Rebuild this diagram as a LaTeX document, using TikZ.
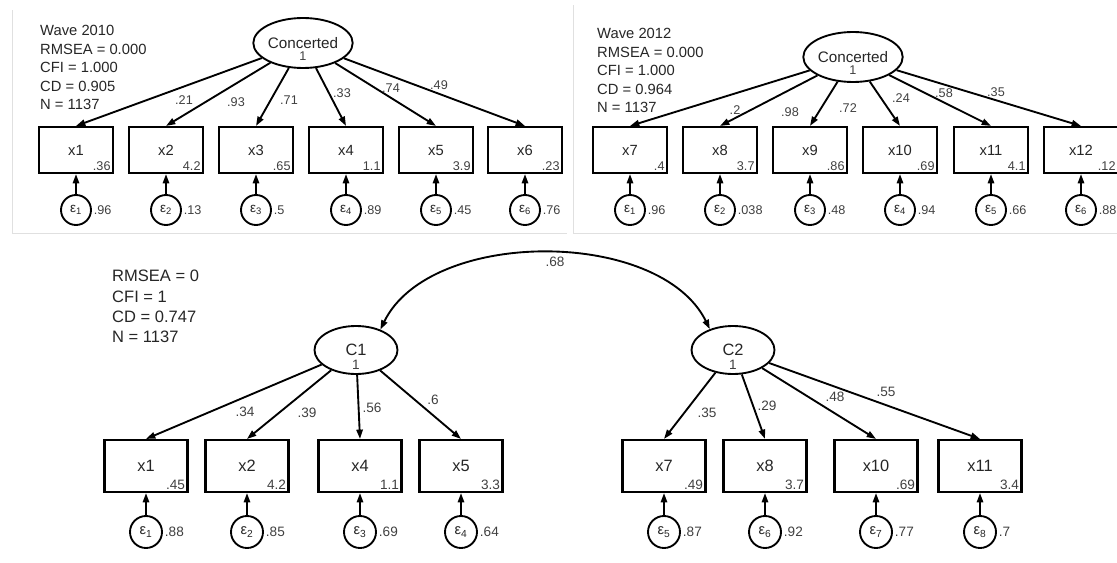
\documentclass[tikz,border=0pt]{standalone}
\usepackage{fontspec}
\setmainfont{Liberation Sans}
\usetikzlibrary{arrows.meta, shapes.geometric, positioning}

\begin{document}
\begin{tikzpicture}[x=0.03cm, y=-0.03cm,
        latA/.style={ellipse, draw, line width=1.6pt, inner sep=0pt, minimum width=2.22cm, minimum height=1.5cm, font=\fontsize{13}{15}\selectfont, text=black!85},
        latB/.style={ellipse, draw, line width=1.6pt, inner sep=0pt, minimum width=2.49cm, minimum height=1.44cm, font=\fontsize{14}{15}\selectfont, text=black!85},
        boxA/.style={rectangle, draw, line width=1.8pt, inner sep=0pt, minimum width=2.22cm, minimum height=1.38cm, font=\fontsize{12.6}{14}\selectfont, text=black!85},
        boxB/.style={rectangle, draw, line width=1.8pt, inner sep=0pt, minimum width=2.49cm, minimum height=1.56cm, font=\fontsize{14}{15}\selectfont, text=black!85},
        errA/.style={circle, draw, line width=1.6pt, inner sep=0pt, minimum size=0.9cm, font=\fontsize{11.5}{12}\selectfont, text=black!85},
        errB/.style={circle, draw, line width=1.6pt, inner sep=0pt, minimum size=0.96cm, font=\fontsize{12.5}{13}\selectfont, text=black!85},
        numA/.style={inner sep=1.5pt, font=\fontsize{10.8}{12}\selectfont, text=black!75},
        numB/.style={inner sep=1.5pt, font=\fontsize{11.6}{13}\selectfont, text=black!75},
        intA/.style={numA, anchor=south east, inner sep=2.8pt},
        intB/.style={numB, anchor=south east, inner sep=2.8pt},
        statsA/.style={anchor=north west, align=left, inner sep=0pt, font=\fontsize{12.6}{15.8}\selectfont, text=black!85},
        statsB/.style={anchor=north west, align=left, inner sep=0pt, font=\fontsize{14.1}{17.3}\selectfont, text=black!85},
        load/.style={-{Triangle[length=2.8mm,width=1.9mm]}, line width=1.6pt},
        cov/.style={{Triangle[length=2.8mm,width=1.9mm]}-{Triangle[length=2.8mm,width=1.9mm]}, line width=1.6pt},
        panel/.style={draw=black!12, line width=0.6pt}]
        \useasboundingbox (0,0) rectangle (1117,563);

        % panel edges of the two wave models
        \draw[panel] (12,10) -- (12,233) -- (567,233);
        \draw[panel] (573,5) -- (573,233) -- (1117,233);

        % wave 2010
        \node[statsA] at (40,25) (infoA) {Wave 2010\\RMSEA = 0.000\\CFI = 1.000\\CD = 0.905\\N = 1137};
        \node[latA] at (303,43) (ConcA) {Concerted};
        \node[numA] at (303,56) (ConcAone) {1};
        \node[boxA] at (76,150) (x1a) {x1};
        \node[boxA] at (166,150) (x2a) {x2};
        \node[boxA] at (256,150) (x3a) {x3};
        \node[boxA] at (346,150) (x4a) {x4};
        \node[boxA] at (436,150) (x5a) {x5};
        \node[boxA] at (525,150) (x6a) {x6};
        \node[intA] at (x1a.south east) (i1a) {.36};
        \node[intA] at (x2a.south east) (i2a) {4.2};
        \node[intA] at (x3a.south east) (i3a) {.65};
        \node[intA] at (x4a.south east) (i4a) {1.1};
        \node[intA] at (x5a.south east) (i5a) {3.9};
        \node[intA] at (x6a.south east) (i6a) {.23};
        \node[errA] at (76,210) (e1a) {ε\textsubscript{1}};
        \node[errA] at (166,210) (e2a) {ε\textsubscript{2}};
        \node[errA] at (256,210) (e3a) {ε\textsubscript{3}};
        \node[errA] at (346,210) (e4a) {ε\textsubscript{4}};
        \node[errA] at (436,210) (e5a) {ε\textsubscript{5}};
        \node[errA] at (525,210) (e6a) {ε\textsubscript{6}};
        \node[numA, anchor=west] at (e1a.east) (v1a) {.96};
        \node[numA, anchor=west] at (e2a.east) (v2a) {.13};
        \node[numA, anchor=west] at (e3a.east) (v3a) {.5};
        \node[numA, anchor=west] at (e4a.east) (v4a) {.89};
        \node[numA, anchor=west] at (e5a.east) (v5a) {.45};
        \node[numA, anchor=west] at (e6a.east) (v6a) {.76};
        \draw[load] (ConcA) -- (x1a.north);
        \draw[load] (ConcA) -- (x2a.north);
        \draw[load] (ConcA) -- (x3a.north);
        \draw[load] (ConcA) -- (x4a.north);
        \draw[load] (ConcA) -- (x5a.north);
        \draw[load] (ConcA) -- (x6a.north);
        \draw[load] (e1a) -- (x1a);
        \draw[load] (e2a) -- (x2a);
        \draw[load] (e3a) -- (x3a);
        \draw[load] (e4a) -- (x4a);
        \draw[load] (e5a) -- (x5a);
        \draw[load] (e6a) -- (x6a);
        \node[numA] at (184,100) (l1a) {.21};
        \node[numA] at (236,102) (l2a) {.93};
        \node[numA] at (289,100) (l3a) {.71};
        \node[numA] at (342,93) (l4a) {.33};
        \node[numA] at (391,88) (l5a) {.74};
        \node[numA] at (439,85) (l6a) {.49};

        % wave 2012
        \node[statsA] at (597,28) (infoB) {Wave 2012\\RMSEA = 0.000\\CFI = 1.000\\CD = 0.964\\N = 1137};
        \node[latA] at (853,57) (ConcB) {Concerted};
        \node[numA] at (853,70) (ConcBone) {1};
        \node[boxA] at (630,150) (x7b) {x7};
        \node[boxA] at (720,150) (x8b) {x8};
        \node[boxA] at (810,150) (x9b) {x9};
        \node[boxA] at (900,150) (x10b) {x10};
        \node[boxA] at (991,150) (x11b) {x11};
        \node[boxA] at (1081,150) (x12b) {x12};
        \node[intA] at (x7b.south east) (i7b) {.4};
        \node[intA] at (x8b.south east) (i8b) {3.7};
        \node[intA] at (x9b.south east) (i9b) {.86};
        \node[intA] at (x10b.south east) (i10b) {.69};
        \node[intA] at (x11b.south east) (i11b) {4.1};
        \node[intA] at (x12b.south east) (i12b) {.12};
        \node[errA] at (630,210) (e1b) {ε\textsubscript{1}};
        \node[errA] at (720,210) (e2b) {ε\textsubscript{2}};
        \node[errA] at (810,210) (e3b) {ε\textsubscript{3}};
        \node[errA] at (900,210) (e4b) {ε\textsubscript{4}};
        \node[errA] at (991,210) (e5b) {ε\textsubscript{5}};
        \node[errA] at (1081,210) (e6b) {ε\textsubscript{6}};
        \node[numA, anchor=west] at (e1b.east) (v1b) {.96};
        \node[numA, anchor=west] at (e2b.east) (v2b) {.038};
        \node[numA, anchor=west] at (e3b.east) (v3b) {.48};
        \node[numA, anchor=west] at (e4b.east) (v4b) {.94};
        \node[numA, anchor=west] at (e5b.east) (v5b) {.66};
        \node[numA, anchor=west] at (e6b.east) (v6b) {.88};
        \draw[load] (ConcB) -- (x7b.north);
        \draw[load] (ConcB) -- (x8b.north);
        \draw[load] (ConcB) -- (x9b.north);
        \draw[load] (ConcB) -- (x10b.north);
        \draw[load] (ConcB) -- (x11b.north);
        \draw[load] (ConcB) -- (x12b.north);
        \draw[load] (e1b) -- (x7b);
        \draw[load] (e2b) -- (x8b);
        \draw[load] (e3b) -- (x9b);
        \draw[load] (e4b) -- (x10b);
        \draw[load] (e5b) -- (x11b);
        \draw[load] (e6b) -- (x12b);
        \node[numA] at (735,110) (l7b) {.2};
        \node[numA] at (790,112) (l8b) {.98};
        \node[numA] at (848,108) (l9b) {.72};
        \node[numA] at (901,98) (l10b) {.24};
        \node[numA] at (944,93) (l11b) {.58};
        \node[numA] at (996,92) (l12b) {.35};

        % two factor model
        \node[statsB] at (112,270) (infoC) {RMSEA = 0\\CFI = 1\\CD = 0.747\\N = 1137};
        \node[latB] at (356,350) (C1) {C1};
        \node[numB] at (356,365) (C1one) {1};
        \node[latB] at (733,350) (C2) {C2};
        \node[numB] at (733,365) (C2one) {1};
        \draw[cov] (C1.40) .. controls (430,228) and (660,228) .. (C2.138);
        \node[numB] at (555,262) (r12) {.68};
        \node[boxB] at (146,466) (x1c) {x1};
        \node[boxB] at (247,466) (x2c) {x2};
        \node[boxB] at (360,466) (x4c) {x4};
        \node[boxB] at (461,466) (x5c) {x5};
        \node[boxB] at (664,466) (x7c) {x7};
        \node[boxB] at (765,466) (x8c) {x8};
        \node[boxB] at (876,466) (x10c) {x10};
        \node[boxB] at (980,466) (x11c) {x11};
        \node[intB] at (x1c.south east) (i1c) {.45};
        \node[intB] at (x2c.south east) (i2c) {4.2};
        \node[intB] at (x4c.south east) (i4c) {1.1};
        \node[intB] at (x5c.south east) (i5c) {3.3};
        \node[intB] at (x7c.south east) (i7c) {.49};
        \node[intB] at (x8c.south east) (i8c) {3.7};
        \node[intB] at (x10c.south east) (i10c) {.69};
        \node[intB] at (x11c.south east) (i11c) {3.4};
        \node[errB] at (146,532) (e1c) {ε\textsubscript{1}};
        \node[errB] at (247,532) (e2c) {ε\textsubscript{2}};
        \node[errB] at (360,532) (e3c) {ε\textsubscript{3}};
        \node[errB] at (461,532) (e4c) {ε\textsubscript{4}};
        \node[errB] at (664,532) (e5c) {ε\textsubscript{5}};
        \node[errB] at (765,532) (e6c) {ε\textsubscript{6}};
        \node[errB] at (876,532) (e7c) {ε\textsubscript{7}};
        \node[errB] at (980,532) (e8c) {ε\textsubscript{8}};
        \node[numB, anchor=west] at (e1c.east) (v1c) {.88};
        \node[numB, anchor=west] at (e2c.east) (v2c) {.85};
        \node[numB, anchor=west] at (e3c.east) (v3c) {.69};
        \node[numB, anchor=west] at (e4c.east) (v4c) {.64};
        \node[numB, anchor=west] at (e5c.east) (v5c) {.87};
        \node[numB, anchor=west] at (e6c.east) (v6c) {.92};
        \node[numB, anchor=west] at (e7c.east) (v7c) {.77};
        \node[numB, anchor=west] at (e8c.east) (v8c) {.7};
        \draw[load] (C1) -- (x1c.north);
        \draw[load] (C1) -- (x2c.north);
        \draw[load] (C1) -- (x4c.north);
        \draw[load] (C1) -- (x5c.north);
        \draw[load] (C2) -- (x7c.north);
        \draw[load] (C2) -- (x8c.north);
        \draw[load] (C2) -- (x10c.north);
        \draw[load] (C2) -- (x11c.north);
        \draw[load] (e1c) -- (x1c);
        \draw[load] (e2c) -- (x2c);
        \draw[load] (e3c) -- (x4c);
        \draw[load] (e4c) -- (x5c);
        \draw[load] (e5c) -- (x7c);
        \draw[load] (e6c) -- (x8c);
        \draw[load] (e7c) -- (x10c);
        \draw[load] (e8c) -- (x11c);
        \node[numB] at (245,412) (l1c) {.34};
        \node[numB] at (307,413) (l2c) {.39};
        \node[numB] at (372,408) (l4c) {.56};
        \node[numB] at (433,400) (l5c) {.6};
        \node[numB] at (707,413) (l7c) {.35};
        \node[numB] at (767,406) (l8c) {.29};
        \node[numB] at (835,397) (l10c) {.48};
        \node[numB] at (886,392) (l11c) {.55};
    \end{tikzpicture}
\end{document}
